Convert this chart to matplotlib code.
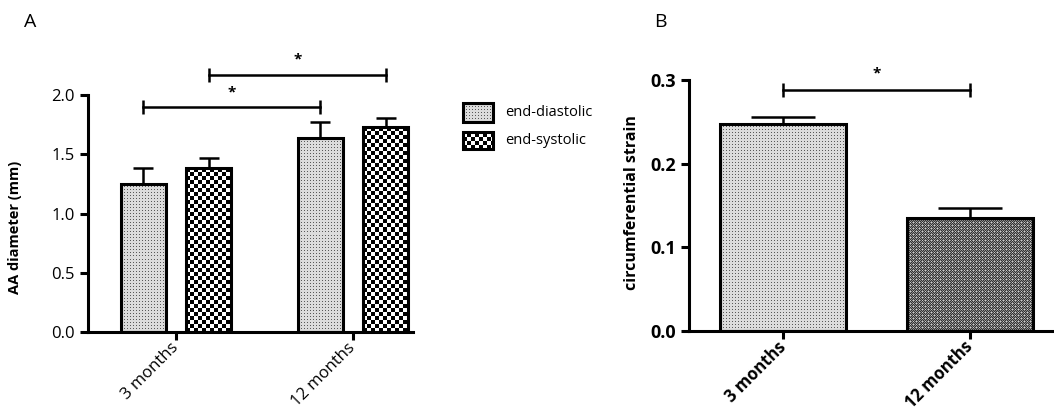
import matplotlib
matplotlib.use('Agg')
import matplotlib.pyplot as plt
from matplotlib.patches import Rectangle
import numpy as np

plt.rcParams['font.family'] = ['Open Sans', 'DejaVu Sans']
plt.rcParams['axes.linewidth'] = 2.2

# data
groups = ['3 months', '12 months']
series = ['end-diastolic', 'end-systolic']
diam_mean = [[1.25, 1.64],   # end-diastolic
             [1.38, 1.73]]   # end-systolic
diam_err = [[0.13, 0.13],
            [0.09, 0.08]]
strain_mean = [0.247, 0.135]
strain_err = [0.009, 0.012]
diam_yticks = [0.0, 0.5, 1.0, 1.5, 2.0]
strain_yticks = [0.0, 0.1, 0.2, 0.3]


def fill_texture(ax, bar, kind):
    """paint a pixel texture inside a bar patch"""
    x0, y0 = bar.get_x(), bar.get_y()
    x1, y1 = x0 + bar.get_width(), y0 + bar.get_height()
    p0 = ax.transData.transform((x0, y0))
    p1 = ax.transData.transform((x1, y1))
    nx = max(int(round(abs(p1[0] - p0[0]))), 1)
    ny = max(int(round(abs(p1[1] - p0[1]))), 1)
    jj, ii = np.meshgrid(np.arange(nx), np.arange(ny))
    if kind == 'dots':
        img = np.where((ii % 3 == 0) & (jj % 3 == 0), 0.35, 0.86)
    elif kind == 'checker':
        img = np.where(((ii // 4) + (jj // 4)) % 2 == 0, 0.0, 1.0)
    else:  # dark fine pattern
        img = np.where((ii % 3 == 0) & (jj % 3 == 0), 0.8,
                       np.where((ii + jj) % 2 == 0, 0.2, 0.55))
    im = ax.imshow(img, cmap='gray', vmin=0, vmax=1, extent=(x0, x1, y0, y1),
                   origin='lower', interpolation='nearest', aspect='auto', zorder=1)
    im.set_clip_path(bar)


def bracket(ax, xa, xb, y, ystar):
    ax.plot([xa, xb], [y, y], color='black', lw=1.8, marker='|', ms=10,
            mew=1.8, clip_on=False)
    ax.text((xa + xb) / 2, ystar, '*', ha='center', va='center',
            fontsize=11, fontweight='bold', clip_on=False)


fig = plt.figure(figsize=(10.54, 4.16), dpi=100)

# ---------------- panel A ----------------
axA = fig.add_axes([0.0835, 0.2019, 0.3084, 0.5697])
axA.set_xlim(-0.497, 1.339)
axA.set_ylim(0, 2.0)
x = np.arange(len(groups))
width = 0.254
offs = [-0.186, 0.186]
kinds = ['dots', 'checker']
for s in range(len(series)):
    bars = axA.bar(x + offs[s], diam_mean[s], width, facecolor='none',
                   edgecolor='black', linewidth=2.2, zorder=2)
    axA.errorbar(x + offs[s], diam_mean[s], yerr=[[0] * len(groups), diam_err[s]],
                 fmt='none', ecolor='black', elinewidth=1.8, capsize=7.2,
                 capthick=1.8, zorder=3)
    for b in bars:
        fill_texture(axA, b, kinds[s])
axA.set_xlim(-0.497, 1.339)
axA.set_ylim(0, 2.0)

for side in ['top', 'right']:
    axA.spines[side].set_visible(False)
axA.set_yticks(diam_yticks)
axA.set_yticklabels(['%.1f' % v for v in diam_yticks], fontsize=12)
axA.set_xticks(x)
axA.set_xticklabels(groups, rotation=45, ha='right', va='center',
                    rotation_mode='anchor', fontsize=12)
axA.tick_params(direction='out', length=6, width=2.2)
axA.set_ylabel('AA diameter (mm)', fontsize=10.5, fontweight='bold')
axA.yaxis.set_label_coords(-0.203, 0.44)

bracket(axA, x[0] + offs[0], x[1] + offs[0], 1.90, 2.02)
bracket(axA, x[0] + offs[1], x[1] + offs[1], 2.17, 2.30)
fig.text(30 / 1054, 1 - 22 / 416, 'A', fontsize=14, ha='center', va='center')

# legend drawn by hand so the boxes carry the textures
axL = fig.add_axes([0, 0, 1, 1])
axL.set_xlim(0, 1054)
axL.set_ylim(416, 0)
axL.axis('off')
leg_rows = [(103, 19), (132, 17)]
for s in range(len(series)):
    top, h = leg_rows[s]
    r = Rectangle((463, top + h), 30, -h, facecolor='none', edgecolor='black',
                  linewidth=2.2, zorder=2)
    axL.add_patch(r)
    fill_texture(axL, r, kinds[s])
    axL.text(505, top + h / 2, series[s], fontsize=10.5, va='center', ha='left')
axL.set_xlim(0, 1054)
axL.set_ylim(416, 0)

# ---------------- panel B ----------------
axB = fig.add_axes([0.6537, 0.2043, 0.3463, 0.6034])
axB.set_xlim(-0.503, 1.45)
axB.set_ylim(0, 0.3)
bw = 0.674
barsB = axB.bar(x, strain_mean, bw, facecolor='none', edgecolor='black',
                linewidth=2.2, zorder=2)
axB.errorbar(x, strain_mean, yerr=[[0] * len(groups), strain_err], fmt='none',
             ecolor='black', elinewidth=1.8, capsize=22.7, capthick=1.8, zorder=3)
fill_texture(axB, barsB[0], 'dots')
fill_texture(axB, barsB[1], 'dark')
axB.set_xlim(-0.503, 1.45)
axB.set_ylim(0, 0.3)
for side in ['top', 'right']:
    axB.spines[side].set_visible(False)
axB.set_yticks(strain_yticks)
axB.set_yticklabels(['%.1f' % v for v in strain_yticks], fontsize=13,
                    fontweight='bold')
axB.set_xticks(x)
axB.set_xticklabels(groups, rotation=45, ha='right', va='center',
                    rotation_mode='anchor', fontsize=12, fontweight='bold')
axB.tick_params(direction='out', length=6, width=2.2)
axB.set_ylabel('circumferential strain', fontsize=11.5, fontweight='bold')
axB.yaxis.set_label_coords(-0.134, 0.51)
bracket(axB, x[0], x[1], 0.288, 0.308)
fig.text(660 / 1054, 1 - 22 / 416, 'B', fontsize=14, ha='center', va='center')

fig.savefig('out.png', dpi=100)
